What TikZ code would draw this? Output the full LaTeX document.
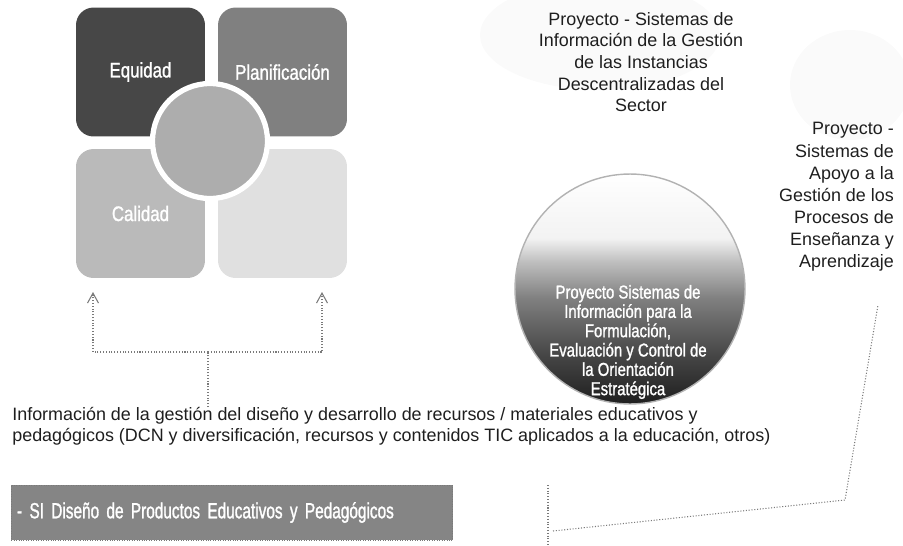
\documentclass[tikz,border=0pt]{standalone}
\usepackage{fontspec}
\setmainfont{Liberation Sans}
\newfontfamily\narrowbf[FakeStretch=0.8,FakeBold=1.2]{Liberation Sans}
\newfontfamily\slimbf[FakeStretch=0.7,FakeBold=1.2]{Liberation Sans}
\usetikzlibrary{arrows.meta,positioning,calc,shapes.geometric}
\definecolor{ink}{HTML}{1E1E1E}
\definecolor{dotline}{HTML}{7A7A7A}
\pgfdeclareverticalshading{orbshade}{100bp}{color(0bp)=(black!88); color(25bp)=(black!88); color(36bp)=(black!72); color(48bp)=(black!50); color(56bp)=(black!25); color(61bp)=(black!5); color(75bp)=(white); color(100bp)=(white)}

\begin{document}
\begin{tikzpicture}[
  x=0.02cm, y=-0.02cm, font=\fontsize{9.6}{12}\selectfont, text=ink,
  quad/.style={rounded corners=10pt, minimum width=2.58cm, minimum height=2.58cm,
    inner sep=0pt, text=white, font=\narrowbf\fontsize{12}{14}\selectfont},
  link/.style={dotline, densely dotted, line width=0.6pt},
  linkarr/.style={link, -{Straight Barb[length=2mm, width=2.2mm]}}
]
\useasboundingbox (0,0) rectangle (903,545);

% four quadrants and hub
\node[quad, fill=black!72] (eq) at (140.5,72) {Equidad};
\node[quad, fill=black!50] (plan) at (282.5,72) {Planificación};
\node[quad, fill=black!27] (cal) at (140.5,213.5) {Calidad};
\node[quad, fill=black!12] (rest) at (282.5,213.5) {};
\node[circle, fill=black!32, draw=white, line width=3pt, minimum size=2.3cm] (hub) at (210,141) {};

% faint halos behind the project texts
\fill[black!2] (600,35) ellipse[x radius=2.4cm, y radius=1.1cm];
\fill[black!2] (850,85) ellipse[x radius=1.2cm, y radius=1.1cm];

% project texts
\node[align=center, font=\fontsize{10.2}{12.3}\selectfont] (gestion) at (641,62)
  {Proyecto - Sistemas de\\Información de la Gestión\\de las Instancias\\Descentralizadas del\\Sector};
\node[align=right, anchor=east, font=\fontsize{10.2}{12.6}\selectfont] (apoyo) at (900,197)
  {Proyecto -\\Sistemas de\\Apoyo a la\\Gestión de los\\Procesos de\\Enseñanza y\\Aprendizaje};

% orientation sphere
\shade[shading=orbshade] (630,289) circle[radius=2.3cm];
\draw[black!30, line width=0.8pt] (630,289) circle[radius=2.3cm];
\node[align=center, text=white, font=\narrowbf\fontsize{10.6}{11}\selectfont] (orient) at (628,342)
  {Proyecto Sistemas de\\Información para la\\Formulación,\\Evaluación y Control de\\la Orientación\\Estratégica};

% information text and SI box
\node[anchor=north west, align=left, inner sep=0pt, font=\fontsize{10.2}{12}\selectfont] (info) at (12,407)
  {Información de la gestión del diseño y desarrollo de recursos / materiales\ educativos y\\
   pedagógicos (DCN y diversificación, recursos y contenidos TIC aplicados a la educación, otros)};
\node[fill=black!48, draw=dotline, densely dotted, minimum width=8.8cm, minimum height=1.1cm,
      text width=8.6cm, align=left, text=white, font=\slimbf\fontsize{12.5}{14}\selectfont] (si) at (232,512.5)
  {- SI Diseño de Productos Educativos y Pedagógicos};

% connectors
\coordinate (junc) at (208,352);
\coordinate (tipL) at (93,292);
\coordinate (tipR) at (322,292);
\draw[link] (info.north -| junc) -- (junc);
\draw[linkarr] (junc) -| (tipL);
\draw[linkarr] (junc) -| (tipR);

\coordinate (sideA) at (548,485);
\coordinate (sideB) at (548,545);
\draw[link] (sideA) -- (sideB);
\coordinate (bendA) at (553,531);
\coordinate (bendB) at (845,500);
\coordinate (bendC) at (878,305);
\draw[link] (bendA) -- (bendB) -- (bendC);
\end{tikzpicture}
\end{document}
